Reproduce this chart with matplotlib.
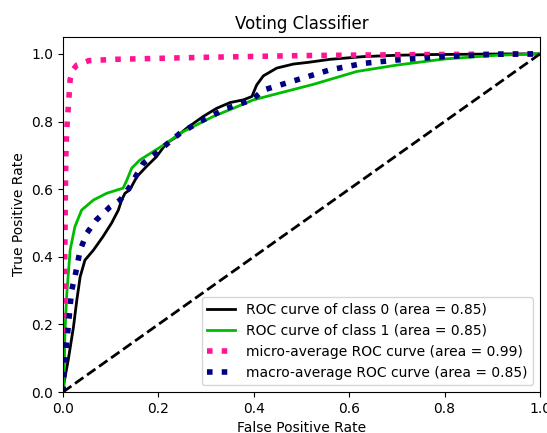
import matplotlib
matplotlib.use("Agg")
import matplotlib.pyplot as plt
import numpy as np

title = "Voting Classifier"

fpr_c0 = [0.0, 0.0006, 0.011, 0.022, 0.029, 0.036, 0.046, 0.064, 0.084, 0.102, 0.116, 0.123, 0.13, 0.14,
          0.155, 0.175, 0.196, 0.217, 0.238, 0.259, 0.294, 0.322, 0.35, 0.378, 0.396, 0.406, 0.42, 0.448,
          0.483, 0.514, 0.56, 0.63, 0.70, 0.77, 0.85, 0.93, 1.0]
tpr_c0 = [0.0, 0.016, 0.095, 0.193, 0.272, 0.341, 0.39, 0.42, 0.46, 0.50, 0.538, 0.568, 0.588, 0.598,
          0.637, 0.667, 0.696, 0.736, 0.755, 0.78, 0.815, 0.839, 0.856, 0.864, 0.874, 0.908, 0.935, 0.958,
          0.97, 0.975, 0.984, 0.992, 0.996, 0.998, 0.999, 1.0, 1.0]

fpr_c1 = [0.0, 0.002, 0.004, 0.008, 0.015, 0.025, 0.039, 0.064, 0.092, 0.126, 0.134, 0.144, 0.161, 0.189,
          0.217, 0.245, 0.273, 0.315, 0.355, 0.399, 0.448, 0.525, 0.616, 0.70, 0.80, 0.91, 1.0]
tpr_c1 = [0.0, 0.016, 0.174, 0.292, 0.42, 0.489, 0.538, 0.568, 0.588, 0.603, 0.627, 0.662, 0.686, 0.711,
          0.736, 0.765, 0.785, 0.815, 0.838, 0.864, 0.882, 0.91, 0.948, 0.967, 0.985, 0.996, 1.0]

fpr_micro = [0.0, 0.003, 0.005, 0.006, 0.008, 0.011, 0.015, 0.022, 0.029, 0.054, 0.11, 0.3, 0.5, 0.75, 1.0]
tpr_micro = [0.0, 0.3, 0.6, 0.7, 0.78, 0.84, 0.925, 0.955, 0.967, 0.98, 0.984, 0.99, 0.995, 0.998, 1.0]

fpr_macro = [0.0, 0.0, 0.004, 0.011, 0.018, 0.025, 0.036, 0.05, 0.07, 0.099, 0.12, 0.14, 0.168, 0.203,
             0.245, 0.287, 0.343, 0.396, 0.42, 0.49, 0.56, 0.63, 0.70, 0.80, 0.91, 1.0]
tpr_macro = [0.0, 0.016, 0.095, 0.193, 0.30, 0.341, 0.42, 0.47, 0.509, 0.548, 0.568, 0.607, 0.676, 0.716,
             0.765, 0.80, 0.839, 0.864, 0.893, 0.923, 0.953, 0.972, 0.982, 0.992, 0.999, 1.0]

labels = ["ROC curve of class 0 (area = 0.85)",
          "ROC curve of class 1 (area = 0.85)",
          "micro-average ROC curve (area = 0.99)",
          "macro-average ROC curve (area = 0.85)"]

fig = plt.figure(figsize=(5.47, 4.33), dpi=100)
ax = fig.add_axes([63/547, 41/433, 477/547, 355/433])

cmap = plt.cm.nipy_spectral
ax.plot(fpr_c0, tpr_c0, lw=2, color=cmap(0.0), label=labels[0])
ax.plot(fpr_c1, tpr_c1, lw=2, color=cmap(0.5), label=labels[1])
ax.plot(fpr_micro, tpr_micro, color='deeppink', linestyle=':', linewidth=4, label=labels[2])
ax.plot(fpr_macro, tpr_macro, color='navy', linestyle=':', linewidth=4, label=labels[3])
ax.plot([0, 1], [0, 1], 'k--', lw=2)

ax.set_xlim([0.0, 1.0])
ax.set_ylim([0.0, 1.05])
ax.set_title(title, fontsize='large')
ax.set_xlabel('False Positive Rate', fontsize='medium')
ax.set_ylabel('True Positive Rate', fontsize='medium')
ax.tick_params(labelsize='medium')
ax.legend(loc='lower right', fontsize='medium')

fig.savefig("out.png", dpi=100)
